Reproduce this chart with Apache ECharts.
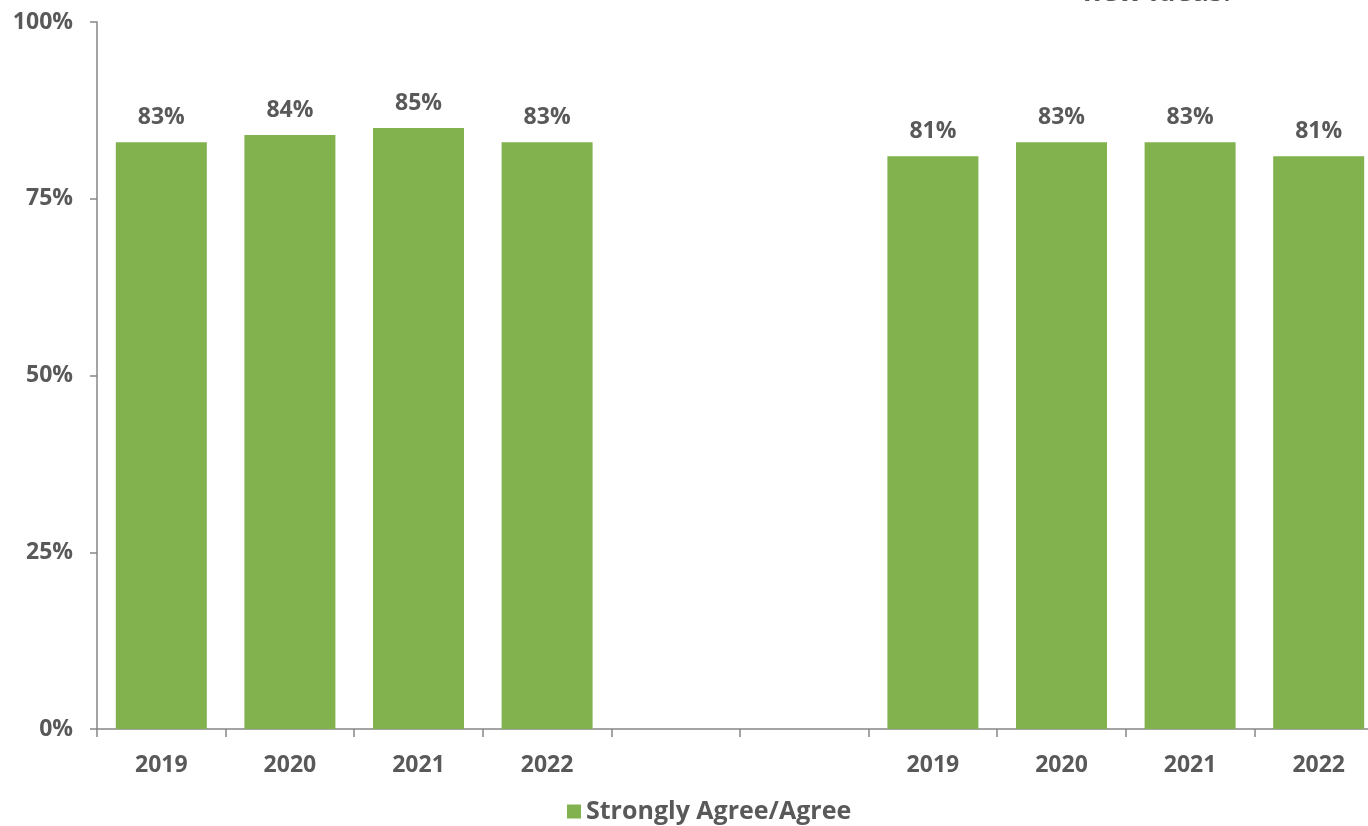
<!DOCTYPE html>
<html><head><meta charset="utf-8">
<script src="https://cdn.jsdelivr.net/npm/echarts@6/dist/echarts.min.js"></script>
<style>html,body{margin:0;padding:0;background:#fff}#c{width:1368px;height:826px}</style>
</head><body><div id="c"></div>
<script>
const categories = ['2019','2020','2021','2022','','','2019','2020','2021','2022'];
const agreeValues = [83, 84, 85, 83, null, null, 81, 83, 83, 81];
const yTicks = [0, 25, 50, 75, 100];
const seriesName = 'Strongly Agree/Agree';
const cutTitle = 'new ideas.';

const chart = echarts.init(document.getElementById('c'));
const font = '"Open Sans", "Liberation Sans", sans-serif';
const grey = '#595959';
chart.setOption({
  animation: false,
  graphic: [{
    type: 'text', x: 1157, y: 7,
    style: { text: cutTitle, fill: grey, font: 'bold 28px ' + font, align: 'center', verticalAlign: 'bottom' }
  }],
  legend: {
    top: 794, left: 562, itemWidth: 14, itemHeight: 14, icon: 'rect', itemGap: 6,
    textStyle: { color: grey, fontSize: 25, fontWeight: 'bold', fontFamily: font },
    data: [seriesName]
  },
  grid: { left: 97, width: 1286, top: 22, height: 707, containLabel: false, outerBoundsMode: 'none' },
  xAxis: {
    type: 'category', data: categories,
    axisLine: { lineStyle: { color: '#868686', width: 1.5 } },
    axisTick: { show: true, length: 8, lineStyle: { color: '#868686', width: 1.5 } },
    axisLabel: { color: grey, fontSize: 23, fontWeight: 'bold', fontFamily: font, margin: 25, interval: 0 }
  },
  yAxis: {
    type: 'value', min: 0, max: 100, interval: 25,
    axisLine: { show: true, lineStyle: { color: '#868686', width: 1.5 } },
    axisTick: { show: true, length: 7, inside: false, lineStyle: { color: '#868686', width: 1.5 } },
    splitLine: { show: false },
    axisLabel: { color: grey, fontSize: 23, fontWeight: 'bold', fontFamily: font, margin: 24,
      formatter: v => yTicks.includes(v) ? v + '%' : '' }
  },
  series: [{
    name: seriesName, type: 'bar', data: agreeValues, barWidth: 91,
    itemStyle: { color: '#81B24D' },
    label: { show: true, position: 'top', distance: 13, color: grey, fontSize: 23, fontWeight: 'bold',
      fontFamily: font, formatter: p => p.value + '%' }
  }]
});
</script></body></html>
